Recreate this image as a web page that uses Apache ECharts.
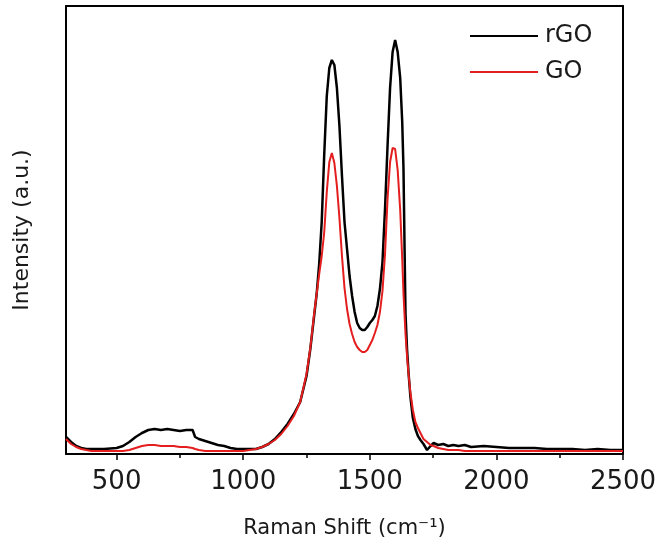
<!DOCTYPE html>
<html>
<head>
<meta charset="utf-8">
<script src="https://cdn.jsdelivr.net/npm/echarts@6/dist/echarts.min.js"></script>
<style>
html,body{margin:0;padding:0;background:#fff;}
#chart{width:656px;height:543px;}
</style>
</head>
<body>
<div id="chart"></div>
<script>
// Raman shift (cm^-1)
const ramanShift = [300,320,340,360,380,400,450,500,525,550,575,600,625,650,675,700,725,750,775,800,810,825,850,875,900,925,950,975,1000,1025,1050,1075,1100,1125,1150,1175,1200,1225,1250,1265,1280,1290,1300,1310,1320,1330,1340,1350,1360,1370,1380,1390,1400,1410,1420,1430,1440,1450,1460,1470,1480,1490,1500,1510,1520,1530,1540,1550,1560,1570,1580,1590,1600,1610,1620,1628,1633,1637,1641,1647,1653,1660,1670,1680,1690,1700,1712,1726,1740,1752,1770,1790,1810,1830,1850,1875,1900,1950,2000,2050,2100,2150,2200,2250,2300,2350,2400,2450,2500];
// Intensity (a.u.)
const rgoIntensity = [17,12,8,6,5,5,5,6,8,12,17,21,24,25,24,25,24,23,24,24,17,15,13,11,9,8,6,5,5,5,5,7,10,15,22,30,40,52,78,105,138,160,190,232,300,358,386,394,389,366,328,278,232,205,178,158,142,131,126,124,124,127,131,134,138,148,165,192,245,308,366,402,414,402,376,332,285,210,140,105,81,58,36,25,18,14,10,4,8,11,9,10,8,9,8,9,7,8,7,6,6,6,5,5,5,4,5,4,4];
const goIntensity = [15,10,7,5,4,3,3,3,3,4,6,8,9,9,8,8,8,7,7,6,5,4,3,3,3,3,3,3,3,4,5,7,10,14,20,28,38,52,80,106,140,160,180,198,222,262,292,301,291,268,236,198,166,145,130,120,112,107,104,102,102,104,109,114,121,129,142,163,200,255,292,306,305,284,244,195,160,140,120,98,80,62,44,32,26,21,15,12,9,8,6,5,4,4,4,3,3,3,3,3,3,3,3,3,3,3,3,3,3];
const seriesNames = ['rGO','GO'];
const xMajorTicks = [500,1000,1500,2000,2500];
const xMinorTicks = [750,1250,1750,2250];

const pair = (xs, ys) => xs.map((x,i)=>[x, ys[i]]);
const font = 'DejaVu Sans';
const chart = echarts.init(document.getElementById('chart'));
chart.setOption({
  animation:false,
  backgroundColor:'#fff',
  grid:{left:66, right:33, top:6, bottom:89, containLabel:false, outerBoundsMode:'none'},
  legend:{
    data:seriesNames, orient:'vertical', left:465, top:19, icon:'rect', itemWidth:68, itemHeight:2, itemGap:12,
    textStyle:{fontFamily:font, fontSize:24, color:'#1a1a1a', padding:[0,0,0,2], lineHeight:24}
  },
  xAxis:[
    {type:'value', min:300, max:2500, position:'bottom',
     axisLine:{show:true, onZero:false, lineStyle:{color:'#000', width:2}},
     axisTick:{show:true, customValues:xMajorTicks, length:6, lineStyle:{color:'#000', width:1.5}},
     axisLabel:{show:true, customValues:xMajorTicks, margin:15, fontFamily:font, fontSize:26, color:'#1a1a1a',
                formatter:(v)=>String(v)},
     splitLine:{show:false},
     name:'Raman Shift (cm⁻¹)', nameLocation:'middle', nameGap:64,
     nameTextStyle:{fontFamily:font, fontSize:21, color:'#1a1a1a'}},
    {type:'value', min:300, max:2500, position:'bottom',
     axisLine:{show:false, onZero:false},
     axisTick:{show:true, customValues:xMinorTicks, length:4, lineStyle:{color:'#000', width:1.5}},
     axisLabel:{show:false}, splitLine:{show:false}},
    {type:'value', min:300, max:2500, position:'top',
     axisLine:{show:true, onZero:false, lineStyle:{color:'#000', width:2}},
     axisTick:{show:false}, axisLabel:{show:false}, splitLine:{show:false}}
  ],
  yAxis:[
    {type:'value', min:0, max:448, position:'left',
     axisLine:{show:true, onZero:false, lineStyle:{color:'#000', width:2}},
     axisTick:{show:false}, axisLabel:{show:false}, splitLine:{show:false},
     name:'Intensity (a.u.)', nameLocation:'middle', nameGap:33,
     nameTextStyle:{fontFamily:font, fontSize:22, color:'#1a1a1a'}},
    {type:'value', min:0, max:448, position:'right',
     axisLine:{show:true, onZero:false, lineStyle:{color:'#000', width:2}},
     axisTick:{show:false}, axisLabel:{show:false}, splitLine:{show:false}}
  ],
  series:[
    {name:seriesNames[0], type:'line', symbol:'none', data:pair(ramanShift, rgoIntensity),
     lineStyle:{color:'#000', width:2.5}, itemStyle:{color:'#000'}},
    {name:seriesNames[1], type:'line', symbol:'none', data:pair(ramanShift, goIntensity),
     lineStyle:{color:'#e41e1e', width:2}, itemStyle:{color:'#e41e1e'}}
  ]
});
</script>
</body>
</html>
